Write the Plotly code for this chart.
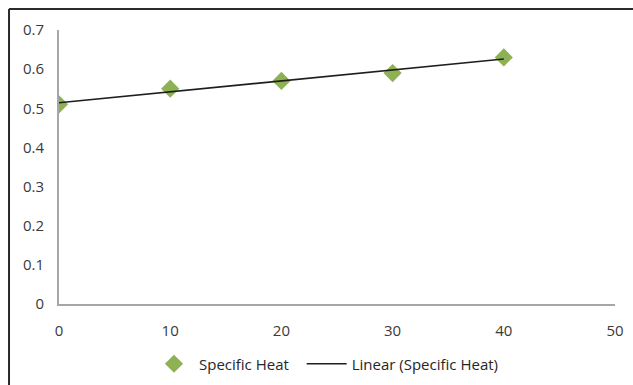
import numpy as np
import plotly.graph_objects as go

temps = [0, 10, 20, 30, 40]
specific_heat = [0.51, 0.55, 0.57, 0.59, 0.63]
x_ticks = [0, 10, 20, 30, 40, 50]
y_ticks = [0, 0.1, 0.2, 0.3, 0.4, 0.5, 0.6, 0.7]

slope, intercept = np.polyfit(temps, specific_heat, 1)
trend_x = [temps[0], temps[-1]]
trend_y = [intercept + slope * t for t in trend_x]

fig = go.Figure()
fig.add_trace(go.Scatter(
    x=temps, y=specific_heat, mode="markers", name="Specific Heat\u00a0\u00a0",
    marker=dict(symbol="diamond", size=14, color="#8DB153"),
))
fig.add_trace(go.Scatter(
    x=trend_x, y=trend_y, mode="lines", name="Linear (Specific Heat)",
    line=dict(color="#1e1e1e", width=1.6),
))

tick_font = dict(family="Open Sans, sans-serif", size=15, color="#3a3a3a")
axis_common = dict(
    showgrid=False, zeroline=False, showline=True, linecolor="#A6A6A6", linewidth=2,
    ticks="", tickfont=tick_font, automargin=False,
)
fig.update_xaxes(range=[0, 50], tickvals=x_ticks, ticktext=[str(v) for v in x_ticks],
                 ticklabelstandoff=12, **axis_common)
fig.update_yaxes(range=[0, 0.7], tickvals=y_ticks, ticktext=[("%g" % v) for v in y_ticks],
                 ticklabelstandoff=10, **axis_common)

fig.update_layout(
    width=633, height=385,
    margin=dict(l=59, r=18, t=30, b=81),
    paper_bgcolor="white", plot_bgcolor="white",
    showlegend=True,
    legend=dict(orientation="h", x=0.515, xanchor="center", xref="container",
                y=1 - 364 / 385, yanchor="middle", yref="container",
                font=dict(family="Open Sans, sans-serif", size=15, color="#262626"),
                itemwidth=40, tracegroupgap=0),
    shapes=[
        dict(type="line", xref="paper", yref="paper", x0=-0.0899, x1=1.2, y0=1.0766, y1=1.0766,
             line=dict(color="#2b2b2b", width=2)),
        dict(type="line", xref="paper", yref="paper", x0=-0.0899, x1=-0.0899, y0=-0.5, y1=1.0766,
             line=dict(color="#2b2b2b", width=2)),
    ],
)

fig.write_html("out.html")
